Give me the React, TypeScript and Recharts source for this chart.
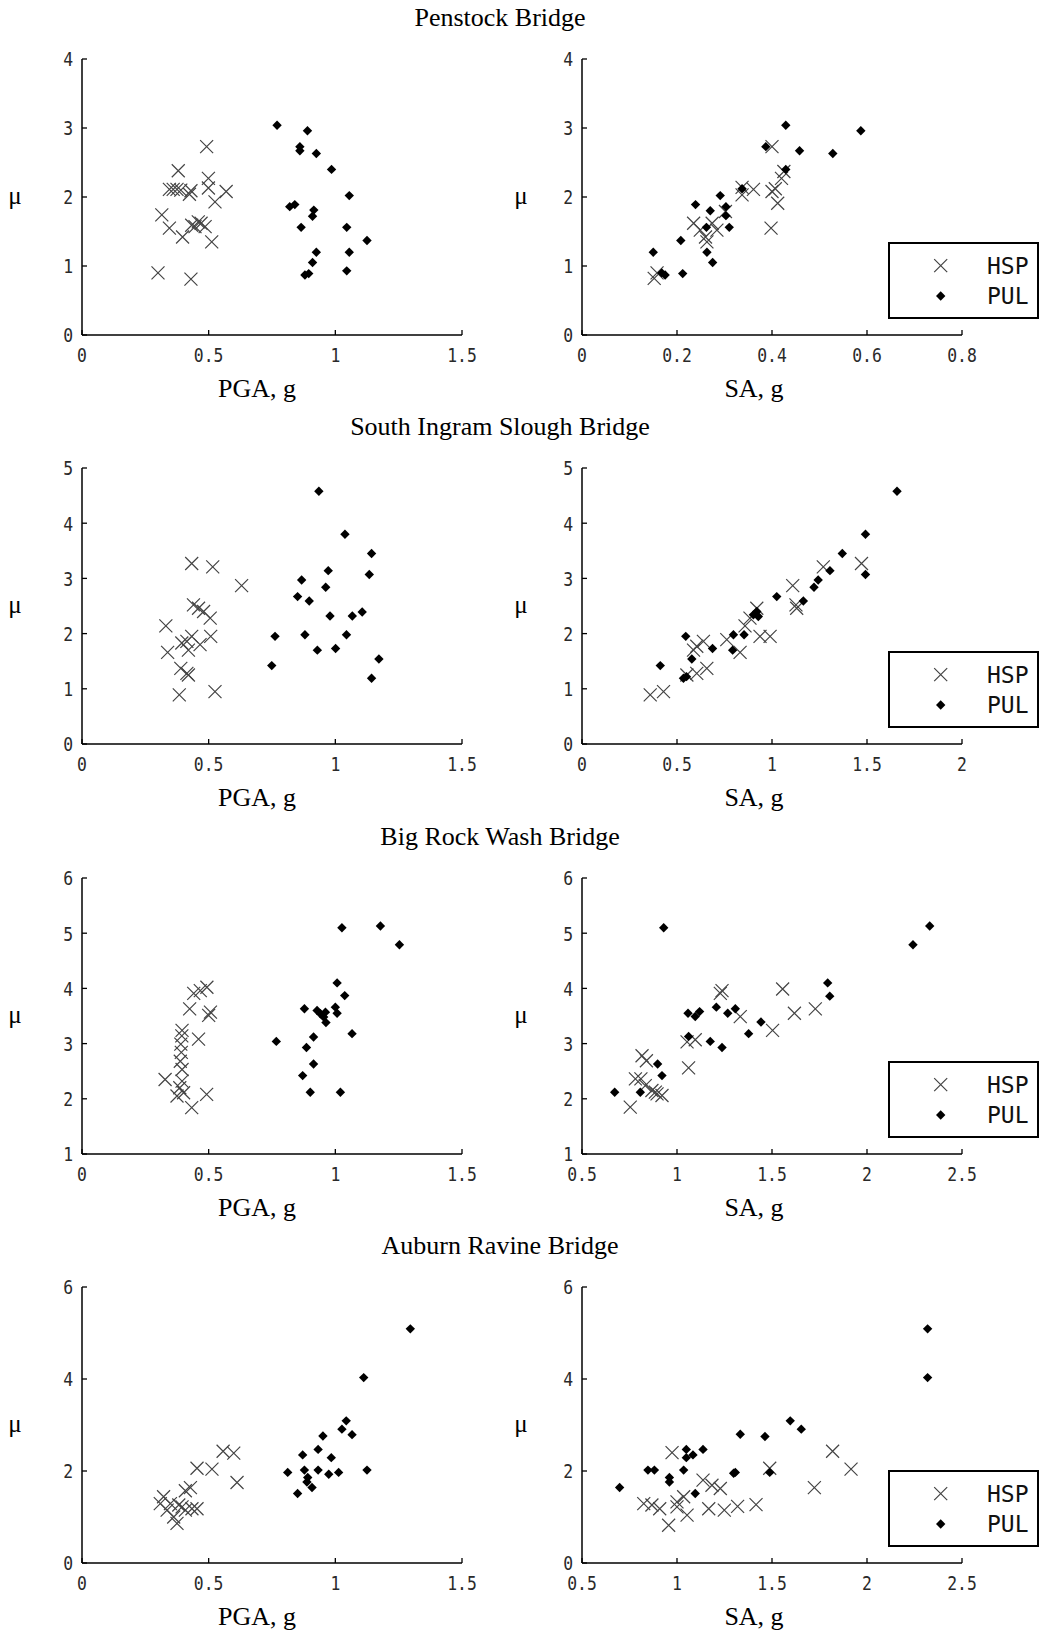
import React from 'react';
import { ScatterChart, Scatter, XAxis, YAxis, Legend, Label } from 'recharts';

type Pt = { x: number; y: number };
const toPts = (a: number[][]): Pt[] => a.map(([x, y]) => ({ x, y }));

// ---------- tick labels ----------
const pgaTicks = [0, 0.5, 1, 1.5];
const penstockSaTicks = [0, 0.2, 0.4, 0.6, 0.8];
const ingramSaTicks = [0, 0.5, 1, 1.5, 2];
const wideSaTicks = [0.5, 1, 1.5, 2, 2.5];
const penstockMuTicks = [0, 1, 2, 3, 4];
const ingramMuTicks = [0, 1, 2, 3, 4, 5];
const bigRockMuTicks = [1, 2, 3, 4, 5, 6];
const auburnMuTicks = [0, 2, 4, 6];

const bridgeTitles = ['Penstock Bridge', 'South Ingram Slough Bridge', 'Big Rock Wash Bridge', 'Auburn Ravine Bridge'];
const seriesNames = ['HSP', 'PUL'];

// ---------- Penstock ----------
const penstockPgaHsp = [
  [0.30, 0.90], [0.43, 0.81], [0.315, 1.74], [0.345, 1.55], [0.397, 1.42], [0.38, 2.38], [0.492, 2.73],
  [0.345, 2.11], [0.36, 2.11], [0.375, 2.11], [0.39, 2.10], [0.43, 2.09], [0.424, 2.04], [0.499, 2.27],
  [0.499, 2.13], [0.569, 2.08], [0.525, 1.93], [0.512, 1.35], [0.433, 1.59], [0.459, 1.64], [0.47, 1.62],
  [0.486, 1.57], [0.446, 1.57],
];
const penstockPgaPul = [
  [0.77, 3.04], [0.89, 2.96], [0.86, 2.73], [0.86, 2.67], [0.925, 2.63], [0.985, 2.40], [1.055, 2.02],
  [0.82, 1.86], [0.84, 1.89], [0.915, 1.81], [0.91, 1.72], [0.865, 1.56], [1.045, 1.56], [1.125, 1.37],
  [0.925, 1.20], [1.055, 1.20], [0.91, 1.05], [0.88, 0.87], [0.895, 0.89], [1.045, 0.93],
];
const penstockSaHsp = [
  [0.152, 0.82], [0.158, 0.90], [0.235, 1.62], [0.249, 1.52], [0.26, 1.42], [0.263, 1.35], [0.274, 1.62],
  [0.284, 1.52], [0.302, 1.79], [0.337, 2.03], [0.337, 2.14], [0.361, 2.11], [0.40, 2.73], [0.398, 1.55],
  [0.40, 2.08], [0.407, 2.12], [0.412, 1.91], [0.42, 2.27], [0.425, 2.37],
];
const penstockSaPul = [
  [0.15, 1.20], [0.168, 0.90], [0.175, 0.87], [0.212, 0.89], [0.208, 1.37], [0.239, 1.89], [0.262, 1.56],
  [0.263, 1.20], [0.275, 1.05], [0.27, 1.80], [0.291, 2.02], [0.303, 1.86], [0.303, 1.73], [0.31, 1.56],
  [0.337, 2.12], [0.387, 2.73], [0.429, 3.04], [0.429, 2.40], [0.458, 2.67], [0.528, 2.63], [0.587, 2.96],
];

// ---------- South Ingram Slough ----------
const ingramPgaHsp = [
  [0.433, 3.27], [0.516, 3.21], [0.63, 2.87], [0.44, 2.52], [0.46, 2.46], [0.48, 2.40], [0.506, 2.28],
  [0.331, 2.14], [0.508, 1.95], [0.433, 1.95], [0.414, 1.86], [0.394, 1.83], [0.466, 1.80], [0.42, 1.70],
  [0.338, 1.66], [0.39, 1.37], [0.414, 1.28], [0.42, 1.25], [0.384, 0.89], [0.525, 0.95],
];
const ingramPgaPul = [
  [0.935, 4.58], [1.038, 3.80], [1.143, 3.45], [1.134, 3.07], [0.972, 3.14], [0.867, 2.97], [0.962, 2.84],
  [0.851, 2.67], [0.897, 2.59], [0.979, 2.32], [1.067, 2.32], [1.106, 2.39], [0.762, 1.95], [0.88, 1.98],
  [1.044, 1.98], [0.929, 1.70], [1.001, 1.73], [0.749, 1.42], [1.172, 1.54], [1.143, 1.19],
];
const ingramSaHsp = [
  [1.471, 3.27], [1.27, 3.21], [1.109, 2.87], [1.126, 2.52], [1.13, 2.46], [0.92, 2.46], [0.884, 2.28],
  [0.858, 2.14], [0.937, 1.95], [0.99, 1.95], [0.762, 1.89], [0.639, 1.86], [0.604, 1.77], [0.587, 1.70],
  [0.832, 1.66], [0.657, 1.37], [0.604, 1.28], [0.552, 1.25], [0.359, 0.89], [0.429, 0.95],
];
const ingramSaPul = [
  [1.658, 4.58], [1.492, 3.80], [1.37, 3.45], [1.492, 3.07], [1.305, 3.14], [1.243, 2.97], [1.221, 2.84],
  [1.025, 2.67], [1.165, 2.59], [0.92, 2.40], [0.928, 2.31], [0.902, 2.34], [0.853, 1.98], [0.797, 1.98],
  [0.546, 1.95], [0.687, 1.73], [0.793, 1.70], [0.578, 1.54], [0.412, 1.42], [0.534, 1.19], [0.55, 1.22],
];

// ---------- Big Rock Wash ----------
const bigRockPgaHsp = [
  [0.493, 4.02], [0.441, 3.91], [0.467, 3.96], [0.425, 3.63], [0.507, 3.57], [0.50, 3.51], [0.395, 3.24],
  [0.394, 3.14], [0.46, 3.08], [0.39, 2.99], [0.392, 2.84], [0.388, 2.68], [0.395, 2.53], [0.328, 2.35],
  [0.395, 2.32], [0.386, 2.20], [0.401, 2.11], [0.375, 2.05], [0.492, 2.08], [0.433, 1.84],
];
const bigRockPgaPul = [
  [1.026, 5.10], [1.178, 5.13], [1.253, 4.79], [1.007, 4.10], [1.037, 3.87], [0.878, 3.63], [1.0, 3.66],
  [1.007, 3.55], [0.928, 3.60], [0.941, 3.54], [0.954, 3.48], [0.961, 3.57], [0.963, 3.38], [1.066, 3.18],
  [0.914, 3.12], [0.767, 3.04], [0.886, 2.93], [0.914, 2.63], [0.871, 2.42], [0.901, 2.12], [1.02, 2.12],
];
const bigRockSaHsp = [
  [1.556, 3.99], [1.228, 3.91], [1.237, 3.96], [1.728, 3.63], [1.618, 3.55], [1.333, 3.49], [1.503, 3.24],
  [1.053, 3.03], [1.096, 3.07], [1.061, 2.56], [0.816, 2.78], [0.839, 2.69], [0.781, 2.36], [0.81, 2.36],
  [0.833, 2.24], [0.868, 2.15], [0.895, 2.09], [0.921, 2.06], [0.754, 1.85], [0.886, 2.12],
];
const bigRockSaPul = [
  [0.93, 5.10], [2.33, 5.13], [2.242, 4.79], [1.793, 4.10], [1.804, 3.86], [1.207, 3.66], [1.307, 3.63],
  [1.267, 3.55], [1.058, 3.55], [1.119, 3.58], [1.096, 3.49], [1.442, 3.39], [1.377, 3.18], [1.061, 3.13],
  [1.175, 3.04], [1.237, 2.93], [0.898, 2.63], [0.921, 2.42], [0.672, 2.12], [0.807, 2.12],
];

// ---------- Auburn Ravine ----------
const auburnPgaHsp = [
  [0.557, 2.43], [0.599, 2.39], [0.454, 2.06], [0.513, 2.04], [0.612, 1.75], [0.428, 1.64], [0.408, 1.57],
  [0.322, 1.44], [0.309, 1.29], [0.349, 1.29], [0.382, 1.26], [0.395, 1.22], [0.454, 1.18], [0.336, 1.15],
  [0.408, 1.15], [0.434, 1.18], [0.375, 0.86], [0.362, 1.00],
];
const auburnPgaPul = [
  [1.296, 5.09], [1.112, 4.03], [1.043, 3.09], [1.026, 2.91], [1.066, 2.79], [0.951, 2.76], [0.932, 2.47],
  [0.871, 2.35], [0.984, 2.29], [0.812, 1.97], [0.878, 2.02], [0.932, 2.02], [0.974, 1.93], [1.013, 1.97],
  [1.125, 2.02], [0.891, 1.86], [0.888, 1.76], [0.908, 1.64], [0.851, 1.51],
];
const auburnSaHsp = [
  [1.819, 2.43], [0.974, 2.40], [1.488, 2.06], [1.916, 2.04], [1.723, 1.64], [1.137, 1.80], [1.184, 1.69],
  [1.228, 1.62], [1.035, 1.44], [1.0, 1.33], [0.825, 1.29], [0.868, 1.26], [0.909, 1.18], [1.167, 1.18],
  [1.249, 1.15], [1.319, 1.23], [1.416, 1.27], [1.053, 1.04], [0.956, 0.82], [1.0, 1.22],
];
const auburnSaPul = [
  [2.319, 5.09], [2.319, 4.03], [1.596, 3.09], [1.654, 2.91], [1.333, 2.80], [1.463, 2.75], [1.049, 2.47],
  [1.137, 2.47], [1.084, 2.35], [1.049, 2.29], [0.847, 2.02], [0.881, 2.02], [1.035, 2.02], [1.298, 1.95],
  [1.307, 1.97], [1.488, 1.97], [0.96, 1.86], [0.96, 1.76], [0.698, 1.64], [1.096, 1.51],
];

// ---------- layout ----------
const ROW_TOPS = [59, 468, 878, 1287];
const PLOT_LEFT = 82;
const PLOT_RIGHT = 462;
const PLOT_H = 276;
const TOP_M = 40;
const CHART_H = 385;
const SERIF = '"Liberation Serif", "Times New Roman", serif';
const MONO = '"DejaVu Sans Mono", "Liberation Mono", monospace';
const TICK_FS = 20;
const TICK_SX = 0.82;

const CrossShape = (p: any) => {
  const { cx, cy } = p;
  if (cx == null || cy == null) return null;
  const s = 6.5;
  return (
    <path
      d={`M${cx - s},${cy - s}L${cx + s},${cy + s}M${cx - s},${cy + s}L${cx + s},${cy - s}`}
      stroke="#444"
      strokeWidth={1.2}
      fill="none"
    />
  );
};

const DiamondShape = (p: any) => {
  const { cx, cy } = p;
  if (cx == null || cy == null) return null;
  const s = 4.7;
  return <path d={`M${cx},${cy - s}L${cx + s},${cy}L${cx},${cy + s}L${cx - s},${cy}Z`} fill="#000" />;
};

const XTick = (p: any) => {
  const { x, y, payload } = p;
  return (
    <g>
      <line x1={x} x2={x} y1={y} y2={y - 5} stroke="#000" strokeWidth={1.3} />
      <text
        transform={`translate(${x},${y + 26.5}) scale(${TICK_SX},1)`}
        textAnchor="middle"
        fontFamily={MONO}
        fontSize={TICK_FS}
        fill="#2a2a2a"
      >
        {String(payload.value)}
      </text>
    </g>
  );
};

const YTick = (p: any) => {
  const { x, y, payload } = p;
  return (
    <g>
      <line x1={x} x2={x + 5} y1={y} y2={y} stroke="#000" strokeWidth={1.3} />
      <text
        transform={`translate(${x - 9},${y + 7.3}) scale(${TICK_SX},1)`}
        textAnchor="end"
        fontFamily={MONO}
        fontSize={TICK_FS}
        fill="#2a2a2a"
      >
        {String(payload.value)}
      </text>
    </g>
  );
};

const LegendBox = (props: any) => {
  const items: any[] = props.payload || [];
  return (
    <div
      style={{
        boxSizing: 'border-box',
        width: 151,
        height: 77,
        border: '2px solid #000',
        background: '#fff',
        position: 'relative',
      }}
    >
      <svg width={147} height={73} style={{ position: 'absolute', left: 0, top: 0 }}>
        {items.map((it, i) => {
          const cy = i === 0 ? 21.7 : 52;
          const name = String(it.value);
          return (
            <g key={name}>
              {name === 'HSP' ? <CrossShape cx={50.7} cy={cy} /> : <DiamondShape cx={50.7} cy={cy} />}
              <text x={97} y={cy + 8.2} fontFamily={MONO} fontSize={23} fill="#111">
                {name}
              </text>
            </g>
          );
        })}
      </svg>
    </div>
  );
};

type PanelProps = {
  hsp: number[][];
  pul: number[][];
  xTicks: number[];
  yTicks: number[];
  xLabel: string;
  right: boolean;
};

const Panel = ({ hsp, pul, xTicks, yTicks, xLabel, right }: PanelProps) => {
  const W = right ? 541 : 500;
  const xLabelX = right ? 254 : 257;
  const muX = right ? 21 : 15;
  return (
    <ScatterChart
      width={W}
      height={CHART_H}
      margin={{ top: TOP_M, right: W - PLOT_RIGHT, bottom: 0, left: PLOT_LEFT - 60 }}
    >
      <XAxis
        type="number"
        dataKey="x"
        domain={[xTicks[0], xTicks[xTicks.length - 1]]}
        ticks={xTicks}
        interval={0}
        allowDataOverflow
        height={CHART_H - TOP_M - PLOT_H}
        tickSize={0}
        tickMargin={0}
        tickLine={false}
        axisLine={{ stroke: '#000', strokeWidth: 1.5 }}
        tick={<XTick />}
      >
        <Label
          content={() => (
            <text x={xLabelX} y={TOP_M + PLOT_H + 62} textAnchor="middle" fontFamily={SERIF} fontSize={26} fill="#000">
              {xLabel}
            </text>
          )}
        />
      </XAxis>
      <YAxis
        type="number"
        dataKey="y"
        domain={[yTicks[0], yTicks[yTicks.length - 1]]}
        ticks={yTicks}
        interval={0}
        allowDataOverflow
        width={60}
        tickSize={0}
        tickMargin={0}
        tickLine={false}
        axisLine={{ stroke: '#000', strokeWidth: 1.5 }}
        tick={<YTick />}
      >
        <Label
          content={() => (
            <text x={muX} y={TOP_M + 145} textAnchor="middle" fontFamily={SERIF} fontSize={25} fill="#000">
              μ
            </text>
          )}
        />
      </YAxis>
      <Scatter name={seriesNames[0]} data={toPts(hsp)} shape={CrossShape} isAnimationActive={false} />
      <Scatter name={seriesNames[1]} data={toPts(pul)} shape={DiamondShape} isAnimationActive={false} />
      {right && (
        <Legend
          layout="horizontal"
          verticalAlign="middle"
          align="center"
          wrapperStyle={{ left: 388, top: TOP_M + 183, width: 151, height: 77 }}
          content={LegendBox}
        />
      )}
    </ScatterChart>
  );
};

const rows = [
  { pga: [penstockPgaHsp, penstockPgaPul], sa: [penstockSaHsp, penstockSaPul], saTicks: penstockSaTicks, muTicks: penstockMuTicks },
  { pga: [ingramPgaHsp, ingramPgaPul], sa: [ingramSaHsp, ingramSaPul], saTicks: ingramSaTicks, muTicks: ingramMuTicks },
  { pga: [bigRockPgaHsp, bigRockPgaPul], sa: [bigRockSaHsp, bigRockSaPul], saTicks: wideSaTicks, muTicks: bigRockMuTicks },
  { pga: [auburnPgaHsp, auburnPgaPul], sa: [auburnSaHsp, auburnSaPul], saTicks: wideSaTicks, muTicks: auburnMuTicks },
];

export default function App() {
  return (
    <div
      style={{
        position: 'absolute',
        left: 0,
        top: 0,
        width: 1041,
        height: 1634,
        background: '#fff',
        overflow: 'hidden',
      }}
    >
      <svg width={1041} height={1634} style={{ position: 'absolute', left: 0, top: 0 }}>
        {bridgeTitles.map((t, i) => (
          <text key={t} x={500} y={ROW_TOPS[i] - 33} textAnchor="middle" fontFamily={SERIF} fontSize={26} fill="#000">
            {t}
          </text>
        ))}
      </svg>
      {rows.map((r, i) => (
        <React.Fragment key={i}>
          <div style={{ position: 'absolute', left: 0, top: ROW_TOPS[i] - TOP_M }}>
            <Panel hsp={r.pga[0]} pul={r.pga[1]} xTicks={pgaTicks} yTicks={r.muTicks} xLabel="PGA, g" right={false} />
          </div>
          <div style={{ position: 'absolute', left: 500, top: ROW_TOPS[i] - TOP_M }}>
            <Panel hsp={r.sa[0]} pul={r.sa[1]} xTicks={r.saTicks} yTicks={r.muTicks} xLabel="SA, g" right={true} />
          </div>
        </React.Fragment>
      ))}
    </div>
  );
}
